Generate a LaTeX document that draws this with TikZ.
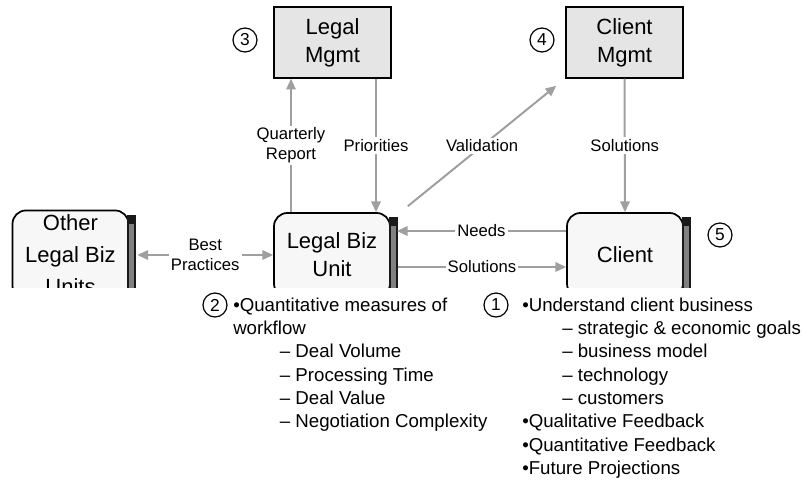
\documentclass[tikz,border=0pt]{standalone}
\usepackage{fontspec}
\setmainfont{Liberation Sans}
\usetikzlibrary{arrows.meta,calc}

\begin{document}
\begin{tikzpicture}[x=0.75pt,y=-0.75pt,>={Triangle[length=8pt,width=7pt]},
  mgmt/.style={draw,line width=1.1pt,fill=gray!20,minimum width=87.75pt,minimum height=53.25pt,align=center,font=\fontsize{16.5}{21}\selectfont},
  unit/.style={draw,line width=1.3pt,fill=gray!6,rounded corners=10pt,minimum width=87pt,minimum height=63pt,align=center,font=\fontsize{16.5}{21}\selectfont},
  link/.style={draw=gray!75,line width=1.5pt},
  lab/.style={fill=white,inner sep=1.5pt,align=center,font=\fontsize{12.5}{15}\selectfont},
  num/.style={draw,circle,line width=0.9pt,inner sep=0pt,minimum size=18pt,font=\fontsize{13}{13}\selectfont},
  list/.style={anchor=north west,inner sep=0pt,align=left,font=\fontsize{14}{17.5}\selectfont}]
\useasboundingbox (0,0) rectangle (804,482);

\begin{scope}
\clip (0,0) rectangle (804,287);
\node[unit,font=\fontsize{16.5}{24}\selectfont] (oth) at (70.5,255) {Other\\Legal Biz\\Units};
\node[unit] (lbu) at (332,255) {Legal Biz\\Unit};
\node[unit] (cl) at (625,255) {Client};
\foreach \b in {oth,lbu,cl}{
  \fill[black!90] ($(\b.north east)+(-2,5)$) rectangle ($(\b.south east)+(7,0)$);
  \fill[gray] ($(\b.north east)+(0,14)$) rectangle ($(\b.south east)+(5,0)$);
}
\end{scope}

\node[mgmt] (lm) at (332.5,42.5) {Legal\\Mgmt};
\node[mgmt] (cm) at (624.5,42.5) {Client\\Mgmt};

\node[num] (n3) at (245,40) {3};
\node[num] (n4) at (542,40) {4};
\node[num] (n5) at (720,235) {5};
\node[num] (n2) at (215,305) {2};
\node[num] (n1) at (496,305) {1};

\draw[link,->] ($(lbu.north)+(-41,0)$) -- node[lab]{Quarterly\\Report} ($(lm.south)+(-41.5,0)$);
\draw[link,->] ($(lm.south)+(43.5,0)$) -- node[lab]{Priorities} ($(lbu.north)+(44,0)$);
\draw[link,->] ($(lbu.north east)+(17,-6)$) -- node[lab]{Validation} ($(cm.south west)+(-9,7)$);
\draw[link,->] (cm.south) -- node[lab]{Solutions} (cl.north);
\draw[link,->] ($(cl.west)+(0,-24)$) -- node[lab]{Needs} ($(lbu.east)+(6,-24)$);
\draw[link,->] ($(lbu.east)+(7,12)$) -- node[lab]{Solutions} ($(cl.west)+(0,12)$);
\draw[link,<->] ($(oth.east)+(8,0)$) -- node[lab]{Best\\Practices} (lbu.west);

\node[list] (meas) at (233,297.5) {•Quantitative measures of\\workflow\\
  \hspace*{35pt}– Deal Volume\\\hspace*{35pt}– Processing Time\\
  \hspace*{35pt}– Deal Value\\\hspace*{35pt}– Negotiation Complexity};
\node[list] (cust) at (522,297.5) {•Understand client business\\
  \hspace*{30pt}– strategic \& economic goals\\\hspace*{30pt}– business model\\
  \hspace*{30pt}– technology\\\hspace*{30pt}– customers\\
  •Qualitative Feedback\\•Quantitative Feedback\\•Future Projections};
\end{tikzpicture}
\end{document}
